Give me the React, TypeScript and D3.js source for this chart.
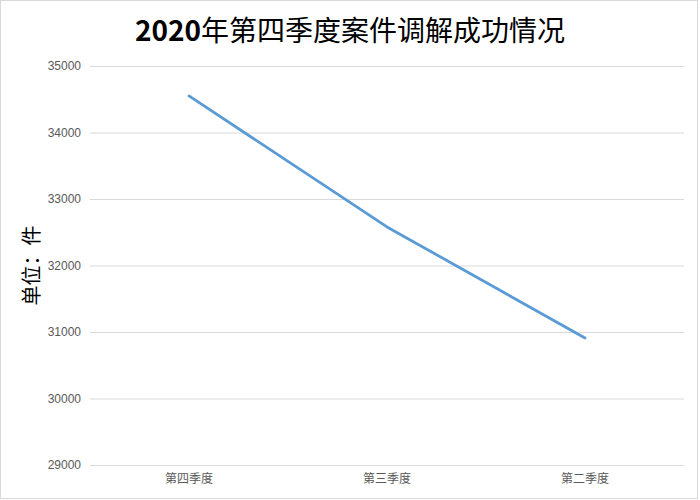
import React, { useEffect, useRef } from 'react';
import * as d3 from 'd3';

const categories = ['第四季度', '第三季度', '第二季度'];
const values = [34550, 32580, 30910];
const yTicks = [29000, 30000, 31000, 32000, 33000, 34000, 35000];

const App: React.FC = () => {
  const svgRef = useRef<SVGSVGElement>(null);

  useEffect(() => {
    if (!svgRef.current) return;
    const width = 700;
    const height = 500;
    const margin = { top: 66, right: 16, bottom: 35, left: 90 };

    const svg = d3.select(svgRef.current);
    svg.selectAll('*').remove();

    // outer frame
    svg.append('rect')
      .attr('x', 0.5)
      .attr('y', 0.5)
      .attr('width', width - 3)
      .attr('height', height - 2)
      .attr('fill', '#ffffff')
      .attr('stroke', '#d9d9d9');

    const x = d3.scaleBand<string>()
      .domain(categories)
      .range([margin.left, width - margin.right]);

    const y = d3.scaleLinear()
      .domain([29000, 35000])
      .range([height - margin.bottom, margin.top]);

    // gridlines + y labels
    const yAxis = d3.axisLeft(y)
      .tickValues(yTicks)
      .tickSize(-(width - margin.left - margin.right))
      .tickPadding(9)
      .tickFormat(d => String(d));

    const gy = svg.append('g')
      .attr('transform', `translate(${margin.left},0)`)
      .call(yAxis);
    gy.select('.domain').remove();
    gy.selectAll('line').attr('stroke', '#d9d9d9').attr('stroke-width', 1);
    gy.selectAll('text')
      .attr('fill', '#595959')
      .style('font-family', '"Liberation Sans", sans-serif')
      .style('font-size', '12px');

    // x labels
    const gx = svg.append('g')
      .attr('transform', `translate(0,${height - margin.bottom})`)
      .call(d3.axisBottom(x).tickSize(0).tickPadding(9));
    gx.select('.domain').remove();
    gx.selectAll('text')
      .attr('fill', '#595959')
      .style('font-family', '"Noto Sans CJK SC", sans-serif')
      .style('font-size', '12px');

    // line
    const line = d3.line<number>()
      .x((_, i) => (x(categories[i]) ?? 0) + x.bandwidth() / 2)
      .y(d => y(d));

    svg.append('path')
      .datum(values)
      .attr('d', line)
      .attr('fill', 'none')
      .attr('stroke', '#5b9bd5')
      .attr('stroke-width', 2.8)
      .attr('stroke-linecap', 'round')
      .attr('stroke-linejoin', 'round');

    // title
    const title = svg.append('text')
      .attr('x', width / 2)
      .attr('y', 41)
      .attr('text-anchor', 'middle')
      .attr('fill', '#000000')
      .style('font-family', '"Noto Sans CJK SC", sans-serif')
      .style('font-size', '28px');
    title.append('tspan').style('font-weight', 'bold').text('2020');
    title.append('tspan').style('font-weight', 'normal').text('年第四季度案件调解成功情况');

    // y axis label
    svg.append('text')
      .attr('transform', `translate(39,${(height - margin.bottom + margin.top) / 2}) rotate(-90)`)
      .attr('text-anchor', 'middle')
      .attr('fill', '#000000')
      .style('font-family', '"Noto Sans CJK SC", serif')
      .style('font-size', '20px')
      .text('单位：件');
  }, []);

  return (
    <svg
      ref={svgRef}
      width={700}
      height={500}
      style={{ position: 'absolute', left: 0, top: 0, background: '#ffffff' }}
    />
  );
};

export default App;
